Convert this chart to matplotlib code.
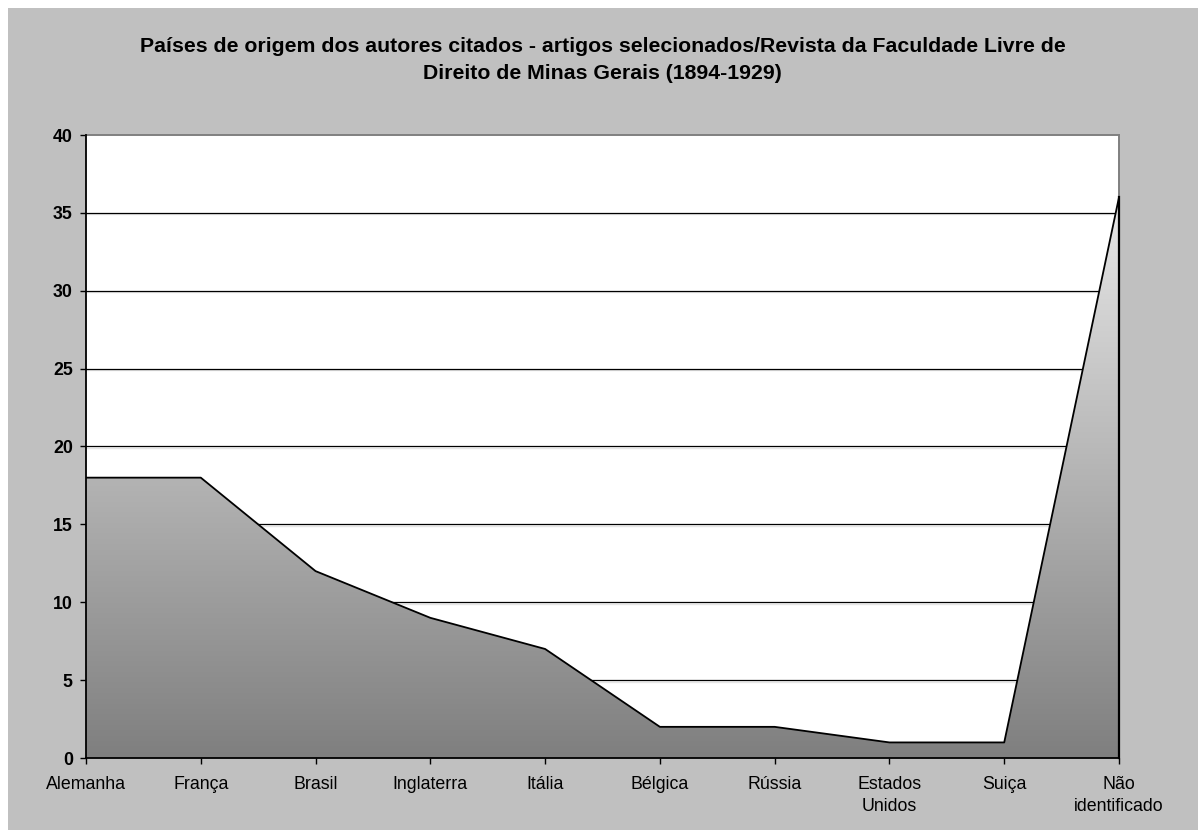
import numpy as np
import matplotlib
matplotlib.use("Agg")
import matplotlib.pyplot as plt
from matplotlib.patches import Rectangle
from matplotlib.colors import LinearSegmentedColormap

plt.rcParams['font.family'] = ['Liberation Sans', 'DejaVu Sans']

# dados
paises = ["Alemanha", "França", "Brasil", "Inglaterra", "Itália", "Bélgica",
          "Rússia", "Estados\nUnidos", "Suiça", "Não\nidentificado"]
autores = [18, 18, 12, 9, 7, 2, 2, 1, 1, 36]
y_ticks = [0, 5, 10, 15, 20, 25, 30, 35, 40]

titulo = ("Países de origem dos autores citados - artigos selecionados/Revista da Faculdade Livre de\n"
          "Direito de Minas Gerais (1894-1929)")

W, H = 1198, 830
fig = plt.figure(figsize=(W / 100, H / 100), dpi=100)
fig.patch.set_facecolor("white")
# fundo cinza do gráfico
fig.patches.append(Rectangle((8 / W, 0), 1 - 8 / W, 1 - 8 / H, transform=fig.transFigure,
                             facecolor="#C0C0C0", edgecolor="none", zorder=-1))

ax = fig.add_axes([86 / W, (H - 758) / H, (1119 - 86) / W, (758 - 135) / H])
ax.set_facecolor("white")

x = np.arange(len(paises))
ax.set_xlim(0, len(paises) - 1)
ax.set_ylim(0, 40)

# linhas de grade (com leve sombra)
px = 40 / (758 - 135)
for v in y_ticks[1:-1]:
    ax.axhline(v - 1.5 * px, color="#E6E6E6", lw=1, zorder=1)
    ax.axhline(v, color="black", lw=0.9, zorder=1.1)

# área com degradê
poly = ax.fill_between(x, autores, 0, facecolor="none", edgecolor="none", zorder=2)
cmap = LinearSegmentedColormap.from_list("cinza", ["#7F7F7F", "#E8E8E8"])
grad = np.linspace(0, 1, 256).reshape(-1, 1)
img = ax.imshow(grad, cmap=cmap, aspect="auto", origin="lower",
                extent=[0, len(paises) - 1, 0, max(autores)], zorder=2)
img.set_clip_path(poly.get_paths()[0], transform=ax.transData)
ax.plot(x, autores, color="black", lw=1.3, zorder=3)
ax.plot([x[-1], x[-1]], [0, autores[-1]], color="black", lw=1.6, zorder=3, clip_on=False)

ax.set_yticks(y_ticks)
ax.set_yticklabels([str(v) for v in y_ticks], fontsize=12.8, fontweight="bold")
ax.set_xticks(x)
ax.set_xticklabels(paises, fontsize=12.8, linespacing=1.35)
ax.tick_params(axis="y", direction="out", length=4.5, width=1, pad=5)
ax.tick_params(axis="x", direction="out", length=4.5, width=1, pad=8.5)

for s in ["left", "bottom"]:
    ax.spines[s].set_color("black")
    ax.spines[s].set_linewidth(1.3)
    ax.spines[s].set_zorder(4)
for s in ["top", "right"]:
    ax.spines[s].set_color("#808080")
    ax.spines[s].set_linewidth(1.4)

fig.text(0.503, 1 - 37 / H, titulo, ha="center", va="top", fontsize=15.3,
         fontweight="bold", linespacing=1.56)

fig.savefig("out.png", dpi=100, facecolor=fig.get_facecolor())
